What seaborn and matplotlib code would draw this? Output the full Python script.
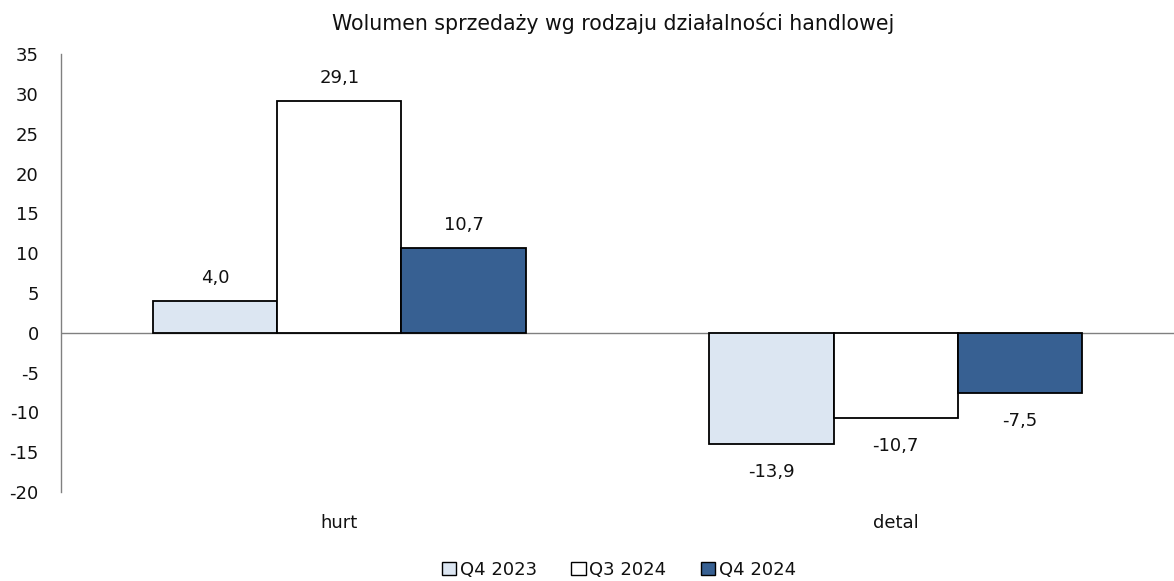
import matplotlib
matplotlib.use("Agg")
import matplotlib.pyplot as plt
from matplotlib.patches import Patch
from matplotlib.ticker import FuncFormatter
import seaborn as sns
import pandas as pd

# Data
categories = ["hurt", "detal"]
periods = ["Q4 2023", "Q3 2024", "Q4 2024"]
q4_2023 = [4.0, -13.9]
q3_2024 = [29.1, -10.7]
q4_2024 = [10.7, -7.5]
colors = ["#dce6f2", "#ffffff", "#376092"]

df = pd.DataFrame({
    "kategoria": categories * 3,
    "okres": [p for p in periods for _ in categories],
    "wartosc": q4_2023 + q3_2024 + q4_2024,
})

sns.set_theme(style="white")
plt.rcParams["font.family"] = ["DejaVu Sans"]
FS = 13.0
TXT = "#111111"

fig = plt.figure(figsize=(11.74, 5.81), dpi=100)
ax = fig.add_axes([0.052, 0.153, 0.948, 0.754])

sns.barplot(data=df, x="kategoria", y="wartosc", hue="okres",
            hue_order=periods, order=categories, palette=colors,
            width=0.67, gap=0, edgecolor="black", linewidth=1.3,
            saturation=1, legend=False, ax=ax)

# Value labels: above positive bars, below negative ones
for cont in ax.containers:
    for bar, v in zip(cont.patches, cont.datavalues):
        x = bar.get_x() + bar.get_width() / 2
        label = f"{v:.1f}".replace(".", ",")
        if v >= 0:
            ax.annotate(label, (x, v), xytext=(0, 10), textcoords="offset points",
                        ha="center", va="bottom", fontsize=FS, color=TXT)
        else:
            ax.annotate(label, (x, v), xytext=(0, -14), textcoords="offset points",
                        ha="center", va="top", fontsize=FS, color=TXT)

ax.set_ylim(-20, 35)
ax.set_yticks(range(-20, 36, 5))
ax.yaxis.set_major_formatter(FuncFormatter(lambda v, p: f"{v:.0f}"))
ax.set_xlim(-0.5, 1.5)
ax.axhline(0, color="#808080", linewidth=1, zorder=0)
for s in ["top", "right", "bottom"]:
    ax.spines[s].set_visible(False)
ax.spines["left"].set_color("#808080")
ax.spines["left"].set_linewidth(1)
ax.tick_params(axis="y", length=0, pad=16, labelsize=FS, labelcolor=TXT)
ax.tick_params(axis="x", length=0, pad=16, labelsize=FS, labelcolor=TXT)
ax.set_xlabel("")
ax.set_ylabel("")

fig.suptitle("Wolumen sprzedaży wg rodzaju działalności handlowej",
             x=0.522, y=0.978, fontsize=14.8, color=TXT)

handles = [Patch(facecolor=c, edgecolor="black", linewidth=1) for c in colors]
fig.legend(handles, periods, loc="lower center", bbox_to_anchor=(0.527, -0.024),
           ncol=3, frameon=False, fontsize=FS, labelcolor=TXT, handlelength=0.8,
           handleheight=0.8, handletextpad=0.2, columnspacing=1.9)

fig.savefig("out.png", dpi=100)
